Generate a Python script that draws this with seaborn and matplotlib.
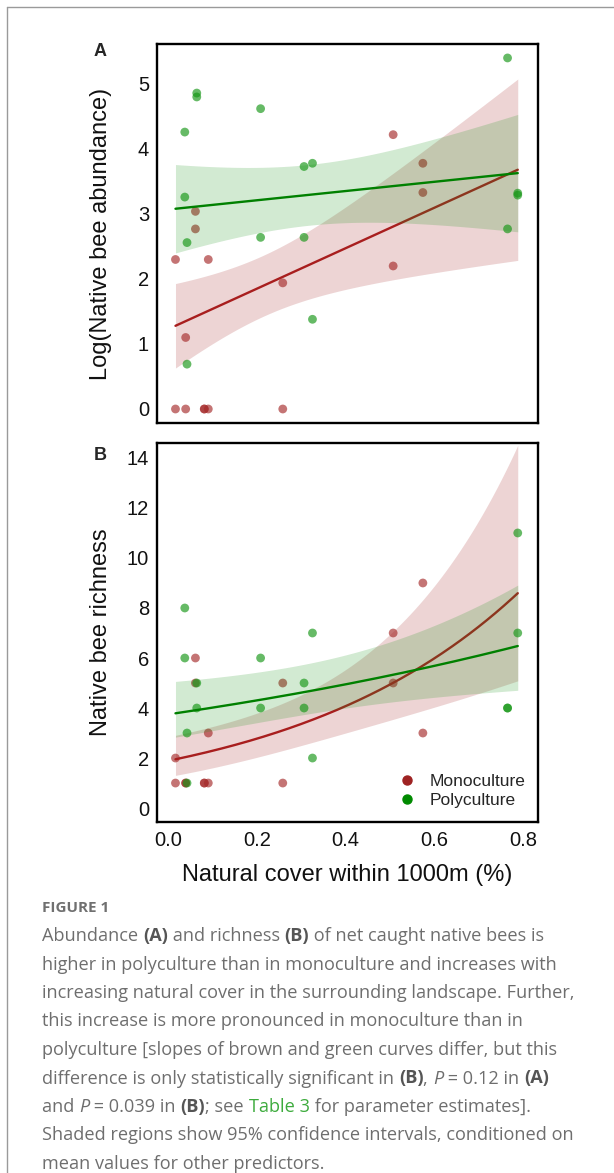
import numpy as np
import pandas as pd
import matplotlib
matplotlib.use("Agg")
import matplotlib.pyplot as plt
import seaborn as sns
from matplotlib.lines import Line2D
from matplotlib.font_manager import FontProperties

# ---------------- data ----------------
systems = ["Monoculture", "Polyculture"]

mono_cover = [0.016, 0.016, 0.039, 0.039, 0.061, 0.061, 0.081, 0.081,
              0.090, 0.090, 0.258, 0.258, 0.507, 0.507, 0.574, 0.574]
mono_abund = [2.30, 0.00, 1.10, 0.00, 3.04, 2.77, 0.00, 0.00,
              2.30, 0.00, 1.94, 0.00, 4.22, 2.20, 3.78, 3.33]
mono_rich = [2, 1, 1, 1, 6, 5, 1, 1, 3, 1, 5, 1, 7, 5, 9, 3]

poly_cover = [0.037, 0.037, 0.042, 0.042, 0.064, 0.064, 0.208, 0.208,
              0.306, 0.306, 0.325, 0.325, 0.765, 0.765, 0.788, 0.788]
poly_abund = [4.26, 3.26, 2.56, 0.69, 4.86, 4.80, 4.62, 2.64,
              3.73, 2.64, 3.78, 1.38, 5.40, 2.77, 3.32, 3.29]
poly_rich = [8, 6, 3, 1, 5, 4, 6, 4, 5, 4, 7, 2, 4, 4, 11, 7]

# model estimates: intercept, slope, CI half-width^2 = v0 + v1*(x-xc)^2
# panel A (identity link), panel B (log link)
abund_intercept = [1.23, 3.069]
abund_slope = [3.11, 0.71]
abund_ci_v0 = [0.2198, 0.2186]
abund_ci_v1 = [5.22, 2.69]
abund_ci_xc = [0.213, 0.317]

rich_intercept = [0.637, 1.321]
rich_slope = [1.921, 0.695]
rich_ci_v0 = [0.0876, 0.0451]
rich_ci_v1 = [0.8245, 0.3187]
rich_ci_xc = [0.312, 0.366]

a_yticks = [0, 1, 2, 3, 4, 5]
b_yticks = [0, 2, 4, 6, 8, 10, 12, 14]
x_ticks = [0.0, 0.2, 0.4, 0.6, 0.8]

# ---------------- styling ----------------
W, H = 614, 1173
point_col = {"Monoculture": "#A52A2A", "Polyculture": "#149614"}
line_col = {"Monoculture": "#A81E1E", "Polyculture": "#008000"}
band_col = {"Monoculture": "#A52A2A", "Polyculture": "#1E961E"}
leg_col = {"Monoculture": "#9E2222", "Polyculture": "#008A00"}

sns.set_theme(style="white")
plt.rcParams["font.family"] = ["Liberation Sans", "DejaVu Sans"]

df = pd.DataFrame({
    "cover": mono_cover + poly_cover,
    "abund": mono_abund + poly_abund,
    "rich": mono_rich + poly_rich,
    "system": ["Monoculture"] * len(mono_cover) + ["Polyculture"] * len(poly_cover),
})

fig = plt.figure(figsize=(W / 100, H / 100), dpi=100)
fig.patch.set_facecolor("white")


def ax_rect(l, t, r, b):
    return [l / W, 1 - b / H, (r - l) / W, (b - t) / H]


axA = fig.add_axes(ax_rect(157.3, 44.3, 537.7, 423.3))
axB = fig.add_axes(ax_rect(157.3, 442.7, 537.7, 822.3))

xmin_fit = min(df["cover"])
xmax_fit = max(df["cover"])
xs = np.linspace(xmin_fit, xmax_fit, 200)


def draw_panel(ax, ycol, params, loglink):
    inter, slope, v0, v1, xc = params
    for i, s in enumerate(systems):
        eta = inter[i] + slope[i] * xs
        hw = np.sqrt(v0[i] + v1[i] * (xs - xc[i]) ** 2)
        lo, hi, mid = eta - hw, eta + hw, eta
        if loglink:
            lo, hi, mid = np.exp(lo), np.exp(hi), np.exp(mid)
        ax.fill_between(xs, lo, hi, color=band_col[s], alpha=0.2, lw=0, zorder=1 + 3 * i)
        sub = df[df["system"] == s]
        sns.scatterplot(data=sub, x="cover", y=ycol, ax=ax, color=point_col[s],
                        alpha=0.65, s=40, edgecolor="none", zorder=2 + 3 * i, legend=False)
        fit = pd.DataFrame({"cover": xs, "fit": mid})
        sns.lineplot(data=fit, x="cover", y="fit", ax=ax, color=line_col[s],
                     lw=1.7, zorder=3 + 3 * i, legend=False)


draw_panel(axA, "abund",
           (abund_intercept, abund_slope, abund_ci_v0, abund_ci_v1, abund_ci_xc), False)
draw_panel(axB, "rich",
           (rich_intercept, rich_slope, rich_ci_v0, rich_ci_v1, rich_ci_xc), True)

for ax in (axA, axB):
    ax.set_xlim(-0.025, 0.833)
    ax.set_xticks(x_ticks)
    for sp in ax.spines.values():
        sp.set_visible(True)
        sp.set_color("black")
        sp.set_linewidth(1.7)
    ax.tick_params(length=0, labelsize=14.5, colors="#111111", pad=6)
    ax.grid(False)
    ax.set_facecolor("white")

axA.set_ylim(-0.22, 5.61)
axA.set_yticks(a_yticks)
axA.set_xticklabels([])
axA.set_xlabel("")
axA.set_ylabel("Log(Native bee abundance)", fontsize=17, color="#111111")
axA.yaxis.set_label_coords(-0.12, 0.5)

axB.set_ylim(-0.57, 14.61)
axB.set_yticks(b_yticks)
axB.set_xticklabels([f"{v:.1f}" for v in x_ticks])
axB.set_xlabel("Natural cover within 1000m (%)", fontsize=17, color="#111111", labelpad=10)
axB.set_ylabel("Native bee richness", fontsize=17, color="#111111")
axB.yaxis.set_label_coords(-0.12, 0.5)

handles = [Line2D([0], [0], marker="o", ls="none", color=leg_col[s], markersize=6.5, label=s)
           for s in systems]
axB.legend(handles=handles, loc="lower right", frameon=False, fontsize=12.5,
           handletextpad=0.3, borderaxespad=0.3, labelspacing=0.25,
           bbox_to_anchor=(1.0, 0.005))

fig.text(100.5 / W, 1 - 51.5 / H, "A", fontsize=13, fontweight="bold", ha="center", va="center")
fig.text(100.5 / W, 1 - 456 / H, "B", fontsize=13, fontweight="bold", ha="center", va="center")

# frame
fig.add_artist(Line2D([7 / W, 7 / W], [0, 1 - 7 / H], color="#9a9a9a", lw=1.0,
                      transform=fig.transFigure))
fig.add_artist(Line2D([7 / W, 1], [1 - 7 / H, 1 - 7 / H], color="#9a9a9a", lw=1.0,
                      transform=fig.transFigure))

# ---------------- caption ----------------
cap_family = ["Open Sans", "DejaVu Sans"]
cap_size = 13.1
gray = "#6e6e6e"
styles = {
    "n": dict(color=gray, fontweight="normal", fontstyle="normal"),
    "b": dict(color="#555555", fontweight="bold", fontstyle="normal"),
    "i": dict(color=gray, fontweight="normal", fontstyle="italic"),
    "g": dict(color="#3dab3d", fontweight="normal", fontstyle="normal"),
}
cap_lines = [
    [("Abundance ", "n"), ("(A)", "b"), (" and richness ", "n"), ("(B)", "b"),
     (" of net caught native bees is", "n")],
    [("higher in polyculture than in monoculture and increases with", "n")],
    [("increasing natural cover in the surrounding landscape. Further,", "n")],
    [("this increase is more pronounced in monoculture than in", "n")],
    [("polyculture [slopes of brown and green curves differ, but this", "n")],
    [("difference is only statistically significant in ", "n"), ("(B)", "b"), (", ", "n"),
     ("P", "i"), (" = 0.12 in ", "n"), ("(A)", "b")],
    [("and ", "n"), ("P", "i"), (" = 0.039 in ", "n"), ("(B)", "b"), ("; see ", "n"),
     ("Table 3", "g"), (" for parameter estimates].", "n")],
    [("Shaded regions show 95% confidence intervals, conditioned on", "n")],
    [("mean values for other predictors.", "n")],
]

renderer = fig.canvas.get_renderer()


def text_width(s, st):
    fp = FontProperties(family=cap_family, size=cap_size,
                        weight=st["fontweight"], style=st["fontstyle"])
    w1, _, _ = renderer.get_text_width_height_descent(s + "|", fp, ismath=False)
    w2, _, _ = renderer.get_text_width_height_descent("|", fp, ismath=False)
    return w1 - w2


fig.text(42 / W, 1 - 908 / H, "FIGURE 1", fontsize=11, fontweight="bold", color="#707070",
         family=cap_family, ha="left", va="center")

y0, dy = 936, 28.5
for k, line in enumerate(cap_lines):
    x = 42.0
    y = y0 + k * dy
    for frag, sk in line:
        st = styles[sk]
        fig.text(x / W, 1 - y / H, frag, fontsize=cap_size, family=cap_family,
                 ha="left", va="center", **st)
        x += text_width(frag, st)

fig.savefig("out.png", dpi=100, facecolor="white")
